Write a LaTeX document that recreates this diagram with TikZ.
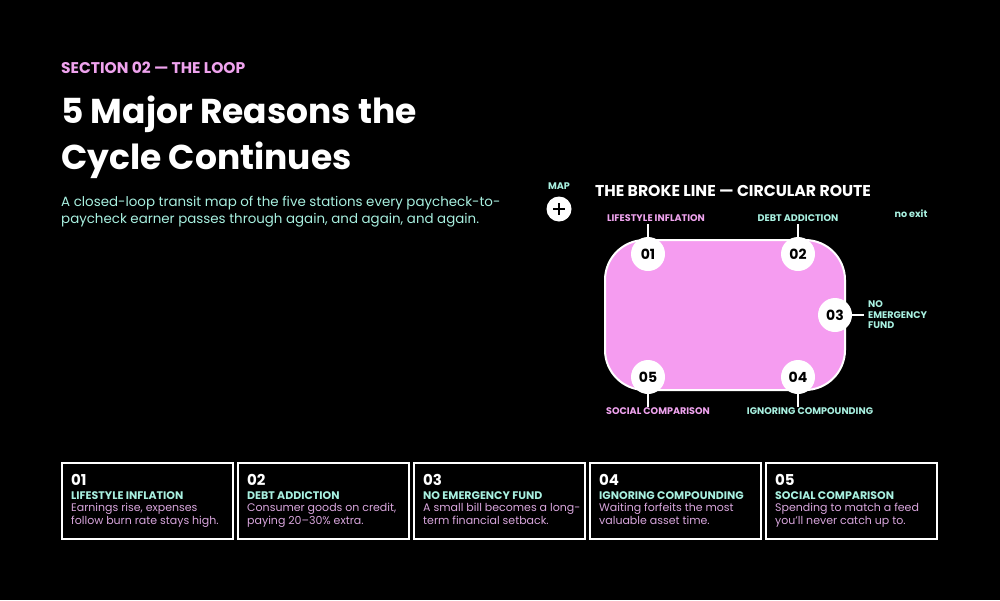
\documentclass[tikz,border=0pt]{standalone}
\usepackage{fontspec}
\setmainfont{Poppins}
\definecolor{pk}{HTML}{F59CF0}
\definecolor{pkt}{HTML}{EFA3EE}
\definecolor{cy}{HTML}{A8F0E0}
\definecolor{bd}{HTML}{D9A6DD}
\begin{document}
\begin{tikzpicture}[x=1pt,y=-1pt,
  st/.style={circle,fill=white,minimum size=34pt,inner sep=0pt,font=\fontsize{14}{14}\selectfont\bfseries,text=black},
  lab/.style={font=\fontsize{9.6}{11}\selectfont\bfseries,inner sep=0pt},
  card/.style={draw=white,line width=1.5pt,minimum width=171pt,minimum height=76pt,inner sep=0pt},
  tk/.style={white,line width=1.5pt}]
\useasboundingbox[fill=black] (0,0) rectangle (1000,600);
\node[anchor=west,text=pkt,font=\fontsize{15.5}{15.5}\selectfont\bfseries,inner sep=0pt] (sec) at (61,68) {SECTION 02 — THE LOOP};
\node[anchor=west,text=white,font=\fontsize{34.5}{34.5}\selectfont\bfseries,inner sep=0pt] (t1) at (61,114) {5 Major Reasons the};
\node[anchor=west,text=white,font=\fontsize{34.5}{34.5}\selectfont\bfseries,inner sep=0pt] (t2) at (61,160) {Cycle Continues};
\node[anchor=west,text=cy,font=\fontsize{13.4}{17}\selectfont,inner sep=0pt,align=left] (sub) at (61,212) {A closed-loop transit map of the five stations every paycheck-to-\\paycheck earner passes through again, and again, and again.};
\node[text=cy,font=\fontsize{9.6}{9.6}\selectfont\bfseries,inner sep=0pt] (map) at (559,186) {MAP};
\node[circle,fill=white,minimum size=25pt,inner sep=0pt] (plus) at (559,209) {};
\draw[black,line width=2.5pt] (553,209) -- (565,209) (559,203) -- (559,215);
\node[text=white,font=\fontsize{15.7}{15.7}\selectfont\bfseries,inner sep=0pt] (hd) at (733,191) {THE BROKE LINE — CIRCULAR ROUTE};
\node[text=cy,lab] (nx) at (911,214) {no exit};
\draw[fill=pk,draw=white,line width=2pt,rounded corners=40pt] (605,240) rectangle (845,390);
\node[st] (s1) at (648,254) {01};
\node[st] (s2) at (798,254) {02};
\node[st] (s3) at (835,315) {03};
\node[st] (s4) at (798,377) {04};
\node[st] (s5) at (648,377) {05};
\node[lab,text=pkt] (l1) at (656,218) {LIFESTYLE INFLATION};
\node[lab,text=cy] (l2) at (798,218) {DEBT ADDICTION};
\node[lab,text=cy,anchor=west,align=left,font=\fontsize{9.6}{10.5}\selectfont\bfseries] (l3) at (868,315) {NO\\EMERGENCY\\FUND};
\node[lab,text=cy] (l4) at (810,411) {IGNORING COMPOUNDING};
\node[lab,text=pkt] (l5) at (658,411) {SOCIAL COMPARISON};
\draw[tk] (s1.north) -- ++(0,-13);
\draw[tk] (s2.north) -- ++(0,-13);
\draw[tk] (s3.east) -- ([xshift=-4pt]l3.west);
\draw[tk] (s4.south) -- ++(0,13);
\draw[tk] (s5.south) -- ++(0,13);
\foreach \i/\x/\h/\a/\b [count=\n] in {
 01/61/{LIFESTYLE INFLATION}/{Earnings rise, expenses}/{follow burn rate stays high.},
 02/237/{DEBT ADDICTION}/{Consumer goods on credit,}/{paying 20–30\% extra.},
 03/413/{NO EMERGENCY FUND}/{A small bill becomes a long-}/{term financial setback.},
 04/589/{IGNORING COMPOUNDING}/{Waiting forfeits the most}/{valuable asset time.},
 05/765/{SOCIAL COMPARISON}/{Spending to match a feed}/{you’ll never catch up to.}}{
 \node[card,anchor=north west] (c\n) at (\x,462) {};
 \node[anchor=west,text=white,font=\fontsize{15}{15}\selectfont\bfseries,inner sep=0pt] (n\n) at (\x+10,480) {\i};
 \node[anchor=west,text=cy,font=\fontsize{11}{11}\selectfont\bfseries,inner sep=0pt] (h\n) at (\x+10,496) {\h};
 \node[anchor=north west,text=bd,font=\fontsize{11}{12.5}\selectfont,inner sep=0pt,align=left] (b\n) at (\x+10,503) {\a\\\b};
}
\end{tikzpicture}
\end{document}
